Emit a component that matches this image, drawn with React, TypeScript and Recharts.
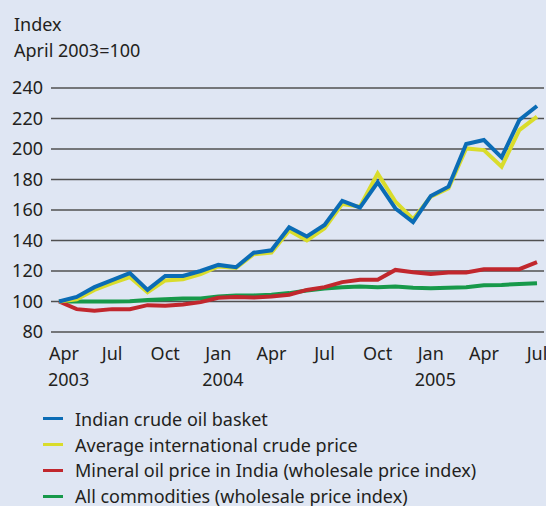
import { LineChart, Line, XAxis, YAxis, CartesianGrid } from "recharts";

const months = [
  "Apr 2003", "May 2003", "Jun 2003", "Jul 2003", "Aug 2003", "Sep 2003", "Oct 2003",
  "Nov 2003", "Dec 2003", "Jan 2004", "Feb 2004", "Mar 2004", "Apr 2004", "May 2004",
  "Jun 2004", "Jul 2004", "Aug 2004", "Sep 2004", "Oct 2004", "Nov 2004", "Dec 2004",
  "Jan 2005", "Feb 2005", "Mar 2005", "Apr 2005", "May 2005", "Jun 2005", "Jul 2005",
];

const indianBasket = [
  100, 103, 109.4, 114, 118.6, 107.6, 116.8, 116.8, 120, 124, 122.5, 132, 133.6, 148.7,
  142.6, 150.2, 166, 161.6, 178.2, 161, 152, 169.2, 175.3, 203.3, 205.9, 194.5, 219, 228.2,
];
const intlCrude = [
  100, 101.5, 107.6, 112, 116, 106, 113.8, 114.6, 118, 123, 122, 131, 132, 146.5,
  140, 148, 164, 162.2, 184, 165.5, 154, 168.8, 174.2, 200.4, 199.3, 188.4, 212.4, 221.2,
];
const mineralOil = [
  100, 95, 93.9, 95, 95, 97.6, 97.2, 98, 99.6, 102.4, 103, 102.6, 103.3, 104.4,
  107.6, 109.4, 112.7, 114.2, 114.2, 120.7, 119.2, 118, 119, 119, 121.2, 121.2, 121.2, 125.8,
];
const allCommodities = [
  100, 100, 100, 100, 100.2, 101, 101.5, 102, 102, 103.3, 104, 104, 104.4, 105.5,
  107.2, 108.5, 109.4, 109.8, 109.4, 109.8, 109, 108.7, 109, 109.4, 110.7, 110.9, 111.4, 112,
];

const yTicks = [80, 100, 120, 140, 160, 180, 200, 220, 240];

const series = [
  { key: "all", label: "All commodities (wholesale price index)", color: "#17994a", values: allCommodities },
  { key: "mineral", label: "Mineral oil price in India (wholesale price index)", color: "#c1272d", values: mineralOil },
  { key: "intl", label: "Average international crude price", color: "#d9dc2b", values: intlCrude },
  { key: "basket", label: "Indian crude oil basket", color: "#0b6cb5", values: indianBasket },
];
const legendOrder = ["basket", "intl", "mineral", "all"];

const data = months.map((m, i) => {
  const row: Record<string, string | number> = { month: m };
  series.forEach((s) => (row[s.key] = s.values[i]));
  return row;
});

const FONT = "'Noto Sans', sans-serif";
const TEXT = "#231f20";
const BG = "#dfe6f3";

const MonthTick = (props: any) => {
  const { x, y, payload, index } = props;
  const [mon, year] = String(payload.value).split(" ");
  const last = index === months.length - 1;
  let cx = x;
  if (index === 0) cx = x + 5;
  if (last) cx = x - 4;
  const showYear = index === 0 || mon === "Jan";
  return (
    <g>
      <text x={cx} y={y + 28} textAnchor="middle" fill={TEXT} fontSize={18} fontFamily={FONT}>
        {mon}
      </text>
      {showYear && (
        <text x={cx - 16} y={y + 54} textAnchor="start" fill={TEXT} fontSize={18} fontFamily={FONT}>
          {year}
        </text>
      )}
    </g>
  );
};

export default function App() {
  return (
    <div
      style={{
        position: "absolute",
        left: 0,
        top: 0,
        width: 546,
        height: 506,
        background: BG,
        fontFamily: FONT,
        color: TEXT,
        overflow: "hidden",
      }}
    >
      <div style={{ position: "absolute", left: 14, top: 11, fontSize: 18, lineHeight: "26px" }}>
        <div>Index</div>
        <div>April 2003=100</div>
      </div>
      <div style={{ position: "absolute", left: 0, top: 0 }}>
        <LineChart width={546} height={400} data={data} margin={{ top: 88, right: 2, bottom: 8, left: 0 }}>
          <CartesianGrid vertical={false} stroke="#505050" strokeWidth={1.5} />
          <XAxis
            dataKey="month"
            interval={2}
            axisLine={false}
            tickLine={false}
            tickSize={0}
            tickMargin={0}
            height={60}
            padding={{ left: 8, right: 7 }}
            tick={<MonthTick />}
          />
          <YAxis
            domain={[80, 240]}
            ticks={yTicks}
            width={51}
            axisLine={false}
            tickLine={false}
            tickSize={0}
            tickMargin={8}
            tick={{ fill: TEXT, fontSize: 18, fontFamily: FONT }}
          />
          {series.map((s) => (
            <Line
              key={s.key}
              type="linear"
              dataKey={s.key}
              stroke={s.color}
              strokeWidth={4}
              dot={false}
              activeDot={false}
              isAnimationActive={false}
            />
          ))}
        </LineChart>
      </div>
      <div style={{ position: "absolute", left: 43, top: 406 }}>
        {legendOrder.map((k) => {
          const s = series.find((x) => x.key === k)!;
          return (
            <div key={k} style={{ display: "flex", alignItems: "center", height: 25.8, fontSize: 18 }}>
              <span style={{ display: "inline-block", width: 20, height: 3, background: s.color, marginRight: 12 }} />
              <span>{s.label}</span>
            </div>
          );
        })}
      </div>
    </div>
  );
}
